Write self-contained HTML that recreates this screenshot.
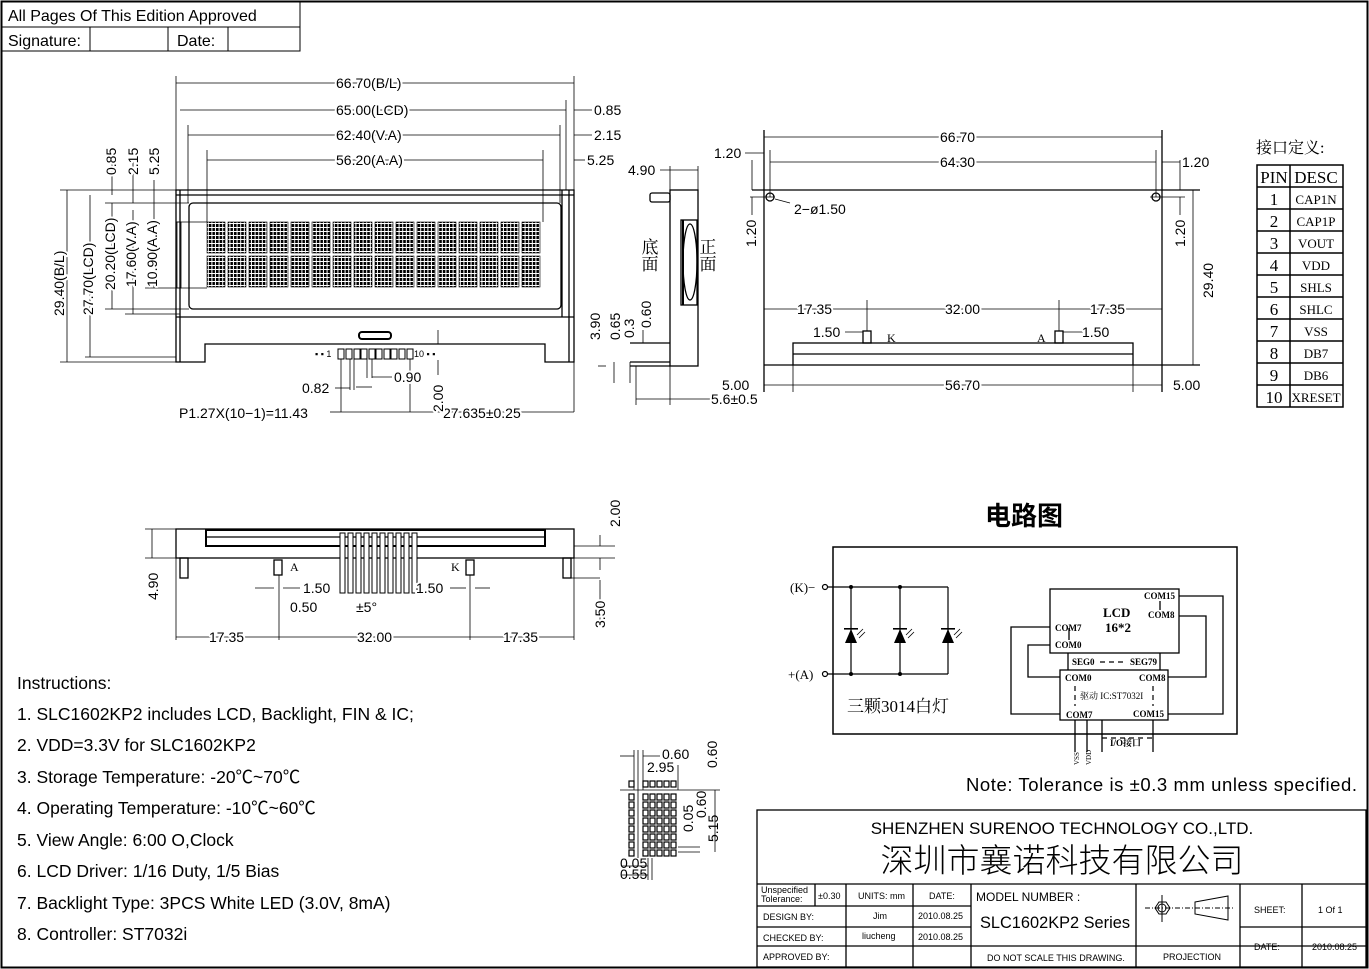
<!DOCTYPE html>
<html><head><meta charset="utf-8"><style>
html,body{margin:0;padding:0;background:#fff}
svg{display:block}
text{font-family:"Liberation Sans","Noto Sans CJK SC",sans-serif;fill:#000}
.s{font-family:"Liberation Serif","Noto Serif CJK SC",serif}
.d text{paint-order:stroke;stroke:#fff;stroke-width:4px;stroke-linejoin:round}
</style></head><body>
<svg width="1369" height="969" viewBox="0 0 1369 969" xmlns="http://www.w3.org/2000/svg" fill="none" stroke="#000" stroke-width="1">
<defs>
<pattern id="dots" width="3.6" height="4" patternUnits="userSpaceOnUse"><rect x="0" y="0" width="2.6" height="3" fill="#000" stroke="none"/></pattern>
</defs>
<rect x="1.5" y="1.5" width="1366" height="966" stroke-width="2"/>
<rect x="2" y="2" width="298" height="49"/>
<line x1="2" y1="27" x2="300" y2="27"/>
<line x1="90" y1="27" x2="90" y2="51"/><line x1="168" y1="27" x2="168" y2="51"/><line x1="228" y1="27" x2="228" y2="51"/>
<g stroke="none" font-size="16"><text x="8" y="21">All Pages Of This Edition Approved</text><text x="8" y="46">Signature:</text><text x="177" y="46">Date:</text></g>

<!-- FRONT VIEW -->
<g stroke-width="1.3">
<path d="M176 190 H574 V362 H545 V344 H205 V362 H176 Z"/>
<line x1="180" y1="190" x2="180" y2="362"/>
<line x1="176" y1="195" x2="574" y2="195"/>
<line x1="562" y1="190" x2="562" y2="317"/><line x1="569" y1="190" x2="569" y2="362"/>
<line x1="176" y1="317" x2="574" y2="317"/>
<rect x="189" y="203" width="372" height="106" rx="4"/>
<line x1="176" y1="222" x2="207" y2="222" stroke-width="0.8"/><line x1="176" y1="288" x2="207" y2="288" stroke-width="0.8"/>
<rect x="177" y="222" width="4" height="66" stroke-width="0.8"/>
<rect x="359" y="332" width="32" height="7" rx="3" stroke-width="2"/>
</g>
<g stroke="#000" stroke-width="0.6">
<g id="r1">
<rect x="207" y="222" width="18" height="31" fill="url(#dots)"/><rect x="228" y="222" width="18" height="31" fill="url(#dots)"/><rect x="249" y="222" width="18" height="31" fill="url(#dots)"/><rect x="270" y="222" width="18" height="31" fill="url(#dots)"/><rect x="291" y="222" width="18" height="31" fill="url(#dots)"/><rect x="312" y="222" width="18" height="31" fill="url(#dots)"/><rect x="333" y="222" width="18" height="31" fill="url(#dots)"/><rect x="354" y="222" width="18" height="31" fill="url(#dots)"/><rect x="375" y="222" width="18" height="31" fill="url(#dots)"/><rect x="396" y="222" width="18" height="31" fill="url(#dots)"/><rect x="417" y="222" width="18" height="31" fill="url(#dots)"/><rect x="438" y="222" width="18" height="31" fill="url(#dots)"/><rect x="459" y="222" width="18" height="31" fill="url(#dots)"/><rect x="480" y="222" width="18" height="31" fill="url(#dots)"/><rect x="501" y="222" width="18" height="31" fill="url(#dots)"/><rect x="522" y="222" width="18" height="31" fill="url(#dots)"/>
</g>
<use href="#r1" y="34"/>
</g>
<g stroke-width="1">
<rect x="338" y="349" width="6" height="10"/><rect x="346" y="349" width="6" height="10"/><rect x="354" y="349" width="6" height="10"/><rect x="361" y="349" width="6" height="10"/><rect x="369" y="349" width="6" height="10"/><rect x="376" y="349" width="6" height="10"/><rect x="384" y="349" width="6" height="10"/><rect x="391" y="349" width="6" height="10"/><rect x="399" y="349" width="6" height="10"/><rect x="407" y="349" width="6" height="10"/>
</g>
<g stroke="none" font-size="9"><text x="315" y="357">▪ ▪ 1</text><text x="414" y="357">10 ▪ ▪</text></g>

<g stroke-width="0.8">
<line x1="176" y1="76" x2="176" y2="190"/><line x1="574" y1="76" x2="574" y2="190"/>
<line x1="176" y1="83" x2="574" y2="83"/>
<line x1="180" y1="110" x2="566" y2="110"/><line x1="566" y1="100" x2="566" y2="190"/><line x1="574" y1="110" x2="592" y2="110"/>
<line x1="188" y1="135" x2="560" y2="135"/><line x1="188" y1="125" x2="188" y2="203"/><line x1="560" y1="125" x2="560" y2="203"/><line x1="574" y1="135" x2="592" y2="135"/>
<line x1="207" y1="160" x2="543" y2="160"/><line x1="207" y1="150" x2="207" y2="222"/><line x1="543" y1="150" x2="543" y2="222"/><line x1="574" y1="160" x2="585" y2="160"/>
<line x1="60" y1="190" x2="176" y2="190"/><line x1="60" y1="362" x2="176" y2="362"/>
<line x1="67" y1="190" x2="67" y2="362"/>
<line x1="90" y1="195" x2="90" y2="357"/><line x1="85" y1="357" x2="176" y2="357"/>
<line x1="112" y1="203" x2="112" y2="309"/><line x1="105" y1="309" x2="189" y2="309"/><line x1="105" y1="203" x2="189" y2="203"/>
<line x1="133" y1="210" x2="133" y2="314"/><line x1="125" y1="314" x2="180" y2="314"/>
<line x1="154" y1="222" x2="154" y2="288"/><line x1="145" y1="288" x2="176" y2="288"/>
<line x1="112" y1="160" x2="112" y2="195"/><line x1="133" y1="160" x2="133" y2="203"/><line x1="154" y1="180" x2="154" y2="222"/>
<line x1="341" y1="359" x2="341" y2="412"/><line x1="410" y1="359" x2="410" y2="412"/><line x1="574" y1="362" x2="574" y2="412"/>
<line x1="341" y1="412" x2="574" y2="412"/><line x1="330" y1="412" x2="341" y2="412"/>
<line x1="350" y1="359" x2="350" y2="390"/><line x1="354" y1="359" x2="354" y2="390"/><line x1="356" y1="387" x2="372" y2="387"/>
<line x1="367" y1="359" x2="367" y2="378"/><line x1="372" y1="359" x2="372" y2="378"/><line x1="372" y1="377" x2="392" y2="377"/>
<line x1="335" y1="388" x2="350" y2="388"/>
<line x1="438" y1="330" x2="438" y2="344"/><line x1="438" y1="360" x2="438" y2="375"/>
</g>
<g class="d" font-size="14">
<text x="336" y="88">66.70(B/L)</text>
<text x="336" y="115">65.00(LCD)</text><text x="594" y="115">0.85</text>
<text x="336" y="140">62.40(V.A)</text><text x="594" y="140">2.15</text>
<text x="336" y="165">56.20(A.A)</text><text x="587" y="165">5.25</text>
<text x="394" y="382">0.90</text><text x="302" y="393">0.82</text>
<text x="179" y="418">P1.27X(10−1)=11.43</text><text x="443" y="418">27.635±0.25</text>
<text transform="translate(64,316) rotate(-90)">29.40(B/L)</text>
<text transform="translate(93,315) rotate(-90)">27.70(LCD)</text>
<text transform="translate(115,290) rotate(-90)">20.20(LCD)</text>
<text transform="translate(136,287) rotate(-90)">17.60(V.A)</text>
<text transform="translate(157,287) rotate(-90)">10.90(A.A)</text>
<text transform="translate(116,175) rotate(-90)">0.85</text>
<text transform="translate(138,175) rotate(-90)">2.15</text>
<text transform="translate(159,175) rotate(-90)">5.25</text>
<text transform="translate(443,412) rotate(-90)">2.00</text>
</g>

<!-- SIDE VIEW -->
<g stroke-width="1.3">
<rect x="670" y="190" width="28" height="176"/>
<rect x="650" y="193" width="20" height="9" rx="2"/>
<rect x="681" y="220" width="16" height="85"/>
<line x1="683" y1="220" x2="683" y2="305" stroke-width="2"/>
<ellipse cx="690" cy="262" rx="7" ry="38"/>
<line x1="630" y1="343" x2="670" y2="343"/><line x1="630" y1="362" x2="670" y2="362"/><line x1="630" y1="366" x2="670" y2="366"/>
</g>
<g stroke-width="0.8"><line x1="670" y1="166" x2="670" y2="190"/><line x1="698" y1="166" x2="698" y2="190"/><line x1="660" y1="170" x2="698" y2="170"/>
<line x1="636" y1="366" x2="636" y2="405"/><line x1="670" y1="366" x2="670" y2="405"/><line x1="636" y1="399" x2="710" y2="399"/>
<line x1="614" y1="362" x2="614" y2="383"/><line x1="630" y1="362" x2="630" y2="383"/><line x1="643" y1="330" x2="643" y2="343"/><line x1="598" y1="366" x2="606" y2="366"/></g>
<g class="d" font-size="14"><text x="628" y="175">4.90</text><text x="711" y="404">5.6±0.5</text>
<text transform="translate(600,340) rotate(-90)">3.90</text>
<text transform="translate(620,340) rotate(-90)">0.65</text>
<text transform="translate(634,338) rotate(-90)">0.3</text>
<text transform="translate(651,328) rotate(-90)">0.60</text>
</g>
<g stroke="none" font-size="17" fill="#555"><text x="648" y="238" class="s" style="writing-mode:vertical-rl">底面</text><text x="706" y="238" class="s" style="writing-mode:vertical-rl">正面</text></g>

<!-- RIGHT VIEW -->
<g stroke-width="1.3">
<line x1="764" y1="130" x2="764" y2="392"/><line x1="1162" y1="130" x2="1162" y2="392"/>
<line x1="752" y1="190" x2="1200" y2="190"/>
<circle cx="770" cy="197" r="4"/><circle cx="1156" cy="197" r="4"/>
<rect x="793" y="343" width="340" height="22"/><line x1="793" y1="354" x2="1133" y2="354"/>
<line x1="764" y1="365" x2="793" y2="365"/><line x1="1133" y1="365" x2="1200" y2="365"/>
<rect x="863" y="331" width="8" height="12"/><rect x="1055" y="331" width="8" height="12"/>
</g>
<g stroke-width="0.8">
<line x1="764" y1="137" x2="1162" y2="137"/><line x1="770" y1="150" x2="770" y2="197"/><line x1="1156" y1="150" x2="1156" y2="197"/>
<line x1="770" y1="162" x2="1156" y2="162"/><line x1="745" y1="153" x2="764" y2="153"/><line x1="1162" y1="162" x2="1180" y2="162"/>
<line x1="750" y1="197" x2="775" y2="197"/><line x1="1150" y1="197" x2="1185" y2="197"/>
<line x1="1193" y1="190" x2="1193" y2="365"/>
<line x1="764" y1="309" x2="1162" y2="309"/><line x1="867" y1="300" x2="867" y2="331"/><line x1="1059" y1="300" x2="1059" y2="331"/>
<line x1="764" y1="385" x2="1162" y2="385"/><line x1="793" y1="365" x2="793" y2="392"/><line x1="1133" y1="365" x2="1133" y2="392"/>
<line x1="845" y1="332" x2="863" y2="332"/><line x1="1063" y1="332" x2="1083" y2="332"/>
<line x1="752" y1="160" x2="752" y2="190"/><line x1="752" y1="197" x2="752" y2="215"/><line x1="1180" y1="160" x2="1180" y2="190"/><line x1="1180" y1="197" x2="1180" y2="215"/>
<line x1="775" y1="199" x2="790" y2="203"/>
</g>
<g class="d" font-size="14">
<text x="940" y="142">66.70</text><text x="940" y="167">64.30</text>
<text x="714" y="158">1.20</text><text x="1182" y="167">1.20</text>
<text x="794" y="214">2−ø1.50</text>
<text x="797" y="314">17.35</text><text x="945" y="314">32.00</text><text x="1090" y="314">17.35</text>
<text x="813" y="337">1.50</text><text x="1082" y="337">1.50</text>
<text x="722" y="390">5.00</text><text x="945" y="390">56.70</text><text x="1173" y="390">5.00</text>
<text transform="translate(756,247) rotate(-90)">1.20</text>
<text transform="translate(1185,247) rotate(-90)">1.20</text>
<text transform="translate(1213,298) rotate(-90)">29.40</text>
</g>
<g stroke="none" font-size="12"><text x="887" y="342" class="s">K</text><text x="1037" y="342" class="s">A</text></g>

<!-- PIN TABLE -->
<text x="1256" y="153" stroke="none" font-size="16" class="s">接口定义:</text>
<g stroke-width="1.5"><rect x="1257" y="165" width="86" height="242"/><line x1="1290" y1="165" x2="1290" y2="407"/>
<line x1="1257" y1="187" x2="1343" y2="187"/><line x1="1257" y1="209" x2="1343" y2="209"/><line x1="1257" y1="231" x2="1343" y2="231"/><line x1="1257" y1="253" x2="1343" y2="253"/><line x1="1257" y1="275" x2="1343" y2="275"/><line x1="1257" y1="297" x2="1343" y2="297"/><line x1="1257" y1="319" x2="1343" y2="319"/><line x1="1257" y1="341" x2="1343" y2="341"/><line x1="1257" y1="363" x2="1343" y2="363"/><line x1="1257" y1="385" x2="1343" y2="385"/></g>
<g stroke="none" font-size="17" text-anchor="middle">
<text class="s" x="1274" y="183">PIN</text><text class="s" x="1316" y="183">DESC</text>
<text class="s" x="1274" y="205">1</text><text class="s" x="1274" y="227">2</text><text class="s" x="1274" y="249">3</text><text class="s" x="1274" y="271">4</text><text class="s" x="1274" y="293">5</text><text class="s" x="1274" y="315">6</text><text class="s" x="1274" y="337">7</text><text class="s" x="1274" y="359">8</text><text class="s" x="1274" y="381">9</text><text class="s" x="1274" y="403">10</text>
</g>
<g stroke="none" font-size="13" text-anchor="middle">
<text class="s" x="1316" y="204">CAP1N</text><text class="s" x="1316" y="226">CAP1P</text><text class="s" x="1316" y="248">VOUT</text><text class="s" x="1316" y="270">VDD</text><text class="s" x="1316" y="292">SHLS</text><text class="s" x="1316" y="314">SHLC</text><text class="s" x="1316" y="336">VSS</text><text class="s" x="1316" y="358">DB7</text><text class="s" x="1316" y="380">DB6</text><text class="s" x="1316" y="402">XRESET</text>
</g>

<!-- BOTTOM VIEW -->
<g stroke-width="1.3">
<rect x="176" y="529" width="398" height="29"/>
<rect x="206" y="530" width="339" height="16" stroke-width="2"/>
<line x1="206" y1="537" x2="545" y2="537"/>
<rect x="180" y="558" width="8" height="20"/><rect x="563" y="558" width="8" height="20"/>
<rect x="274" y="560" width="8" height="15"/><rect x="466" y="560" width="8" height="15"/>
</g>
<g stroke-width="1" fill="#fff">
<rect x="340" y="533" width="5" height="60"/><rect x="348" y="533" width="5" height="60"/><rect x="356" y="533" width="5" height="60"/><rect x="364" y="533" width="5" height="60"/><rect x="372" y="533" width="5" height="60"/><rect x="380" y="533" width="5" height="60"/><rect x="388" y="533" width="5" height="60"/><rect x="396" y="533" width="5" height="60"/><rect x="404" y="533" width="5" height="60"/><rect x="412" y="533" width="5" height="60"/>
</g>
<g stroke-width="0.8">
<line x1="145" y1="529" x2="176" y2="529"/><line x1="145" y1="558" x2="176" y2="558"/><line x1="152" y1="529" x2="152" y2="558"/>
<line x1="176" y1="558" x2="176" y2="640"/><line x1="279" y1="575" x2="279" y2="640"/><line x1="470" y1="575" x2="470" y2="640"/><line x1="574" y1="558" x2="574" y2="640"/>
<line x1="176" y1="637" x2="574" y2="637"/>
<line x1="574" y1="546" x2="615" y2="546"/><line x1="574" y1="558" x2="615" y2="558"/><line x1="571" y1="578" x2="600" y2="578"/>
<line x1="600" y1="535" x2="600" y2="546"/><line x1="600" y1="558" x2="600" y2="570"/><line x1="600" y1="580" x2="600" y2="620"/>
<line x1="255" y1="588" x2="274" y2="588"/><line x1="283" y1="588" x2="300" y2="588"/>
<line x1="450" y1="588" x2="466" y2="588"/><line x1="475" y1="588" x2="490" y2="588"/>
</g>
<g class="d" font-size="14">
<text transform="translate(158,600) rotate(-90)">4.90</text>
<text transform="translate(620,527) rotate(-90)">2.00</text>
<text transform="translate(605,628) rotate(-90)">3.50</text>
<text x="303" y="593">1.50</text><text x="416" y="593">1.50</text>
<text x="290" y="612" fill="#888">0.50</text><text x="356" y="612" fill="#888">±5°</text>
<text x="209" y="642">17.35</text><text x="357" y="642">32.00</text><text x="503" y="642">17.35</text>
</g>
<g stroke="none" font-size="12"><text class="s" x="290" y="571">A</text><text class="s" x="451" y="571">K</text></g>

<!-- DETAIL GRID -->
<g fill="none" stroke-width="1.2">
<rect x="629" y="781" width="5" height="6"/>
<rect x="643" y="781" width="5" height="6"/><rect x="650" y="781" width="5" height="6"/><rect x="657" y="781" width="5" height="6"/><rect x="664" y="781" width="5" height="6"/><rect x="671" y="781" width="5" height="6"/>
<g id="gr">
<rect x="629" y="794" width="5" height="6"/><rect x="643" y="794" width="5" height="6"/><rect x="650" y="794" width="5" height="6"/><rect x="657" y="794" width="5" height="6"/><rect x="664" y="794" width="5" height="6"/><rect x="671" y="794" width="5" height="6"/>
</g>
<use href="#gr" y="8"/><use href="#gr" y="16"/><use href="#gr" y="24"/><use href="#gr" y="32"/><use href="#gr" y="40"/><use href="#gr" y="48"/><use href="#gr" y="56"/>
</g>
<g stroke-width="0.8">
<line x1="638" y1="750" x2="638" y2="858"/><line x1="678" y1="765" x2="678" y2="790"/><line x1="620" y1="790" x2="720" y2="790"/>
<line x1="620" y1="756" x2="634" y2="756"/><line x1="643" y1="756" x2="660" y2="756"/>
<line x1="634" y1="750" x2="634" y2="790"/><line x1="643" y1="750" x2="643" y2="790"/>
<line x1="678" y1="847" x2="700" y2="847"/><line x1="678" y1="852" x2="700" y2="852"/>
<line x1="715" y1="790" x2="715" y2="852"/>
<line x1="648" y1="858" x2="648" y2="880"/><line x1="652" y1="858" x2="652" y2="880"/><line x1="622" y1="866" x2="648" y2="866"/><line x1="622" y1="875" x2="648" y2="875"/>
</g>
<g stroke="none" font-size="14"><text x="662" y="759">0.60</text><text x="647" y="772">2.95</text>
<text transform="translate(717,768) rotate(-90)">0.60</text>
<text transform="translate(693,832) rotate(-90)">0.05</text>
<text transform="translate(706,818) rotate(-90)">0.60</text>
<text transform="translate(718,842) rotate(-90)">5.15</text>
<text x="620" y="868">0.05</text><text x="620" y="879">0.55</text></g>

<!-- CIRCUIT -->
<text x="985" y="525" stroke="none" font-size="26" font-weight="bold" font-family="Noto Sans CJK SC,sans-serif">电路图</text>
<rect x="833" y="547" width="404" height="187" stroke-width="1.5"/>
<g stroke-width="1.2">
<line x1="828" y1="587" x2="948" y2="587"/><line x1="828" y1="674" x2="948" y2="674"/><line x1="948" y1="587" x2="948" y2="674"/>
<line x1="851" y1="587" x2="851" y2="674"/><line x1="900" y1="587" x2="900" y2="674"/>
<circle cx="825" cy="587" r="2.5"/><circle cx="825" cy="674" r="2.5"/>
</g>
<g fill="#000" stroke="none">
<path d="M845 643 L857 643 L851 629 Z"/><rect x="844" y="628" width="14" height="1.6"/>
<path d="M894 643 L906 643 L900 629 Z"/><rect x="893" y="628" width="14" height="1.6"/>
<path d="M942 643 L954 643 L948 629 Z"/><rect x="941" y="628" width="14" height="1.6"/>
<circle cx="851" cy="587" r="2"/><circle cx="900" cy="587" r="2"/><circle cx="851" cy="674" r="2"/><circle cx="900" cy="674" r="2"/>
</g>
<g stroke-width="0.8"><line x1="857" y1="635" x2="863" y2="629"/><line x1="859" y1="638" x2="865" y2="632"/><line x1="906" y1="635" x2="912" y2="629"/><line x1="908" y1="638" x2="914" y2="632"/><line x1="954" y1="635" x2="960" y2="629"/><line x1="956" y1="638" x2="962" y2="632"/></g>
<g stroke="none" font-size="13"><text class="s" x="790" y="592">(K)−</text><text class="s" x="788" y="679">+(A)</text></g>
<text x="847" y="712" stroke="none" font-size="17" fill="#444" class="s">三颗3014白灯</text>
<g stroke-width="1.3">
<rect x="1050" y="589" width="129" height="64"/>
<rect x="1060" y="670" width="108" height="50"/>
<line x1="1068" y1="653" x2="1068" y2="670"/><line x1="1160" y1="653" x2="1160" y2="670"/>
<polyline points="1050,627 1011,627 1011,714 1060,714"/>
<polyline points="1050,645 1028,645 1028,677 1060,677"/>
<polyline points="1179,596 1223,596 1223,714 1168,714"/>
<polyline points="1179,616 1206,616 1206,677 1168,677"/>
<line x1="1075" y1="720" x2="1075" y2="752"/><line x1="1087" y1="720" x2="1087" y2="752"/><line x1="1102" y1="720" x2="1102" y2="752"/><line x1="1153" y1="720" x2="1153" y2="752"/>
<line x1="1069" y1="628" x2="1069" y2="640"/><line x1="1160" y1="601" x2="1160" y2="610"/>
</g>
<g stroke-width="1.2" stroke-dasharray="5,4"><line x1="1102" y1="738" x2="1153" y2="738"/><line x1="1100" y1="662" x2="1127" y2="662"/><line x1="1075" y1="686" x2="1075" y2="706"/><line x1="1153" y1="686" x2="1153" y2="706"/></g>
<g stroke="none" font-size="9" font-weight="bold">
<text class="s" x="1144" y="599">COM15</text><text class="s" x="1148" y="618">COM8</text>
<text class="s" x="1055" y="631">COM7</text><text class="s" x="1055" y="648">COM0</text>
<text class="s" x="1072" y="665">SEG0</text><text class="s" x="1130" y="665">SEG79</text>
<text class="s" x="1065" y="681">COM0</text><text class="s" x="1139" y="681">COM8</text>
<text class="s" x="1066" y="718">COM7</text><text class="s" x="1133" y="717">COM15</text>
<text class="s" x="1110" y="746">I/O接口</text>
<text class="s" x="1080" y="699" font-weight="normal">驱动 IC:ST7032I</text>
</g>
<g stroke="none" font-size="13" font-weight="bold"><text class="s" x="1103" y="617">LCD</text><text class="s" x="1105" y="632">16*2</text></g>
<g stroke="none" font-size="7"><text class="s" transform="translate(1079,765) rotate(-90)">VSS</text><text class="s" transform="translate(1091,765) rotate(-90)">VDD</text></g>

<text x="966" y="791" stroke="none" font-size="18.5" textLength="391">Note: Tolerance is ±0.3 mm unless specified.</text>

<!-- INSTRUCTIONS -->
<g stroke="none" font-size="17.5">
<text x="17" y="689">Instructions:</text>
<text x="17" y="720">1. SLC1602KP2 includes LCD, Backlight,  FIN &amp; IC;</text>
<text x="17" y="751">2. VDD=3.3V for SLC1602KP2</text>
<text x="17" y="783">3. Storage Temperature:  -20℃~70℃</text>
<text x="17" y="814">4. Operating Temperature:  -10℃~60℃</text>
<text x="17" y="846">5. View Angle: 6:00 O,Clock</text>
<text x="17" y="877">6. LCD Driver: 1/16 Duty, 1/5 Bias</text>
<text x="17" y="909">7. Backlight Type: 3PCS White LED (3.0V, 8mA)</text>
<text x="17" y="940">8. Controller: ST7032i</text>
</g>

<!-- TITLE BLOCK -->
<g stroke-width="1.3">
<rect x="757" y="810" width="609" height="157"/>
<line x1="757" y1="884" x2="1366" y2="884"/>
<line x1="757" y1="906" x2="971" y2="906"/><line x1="757" y1="927" x2="971" y2="927"/><line x1="757" y1="946" x2="1366" y2="946"/>
<line x1="1240" y1="927" x2="1366" y2="927"/>
<line x1="815" y1="884" x2="815" y2="906"/><line x1="846" y1="884" x2="846" y2="967"/><line x1="913" y1="884" x2="913" y2="967"/>
<line x1="971" y1="884" x2="971" y2="967"/><line x1="1136" y1="884" x2="1136" y2="967"/><line x1="1240" y1="884" x2="1240" y2="967"/><line x1="1302" y1="884" x2="1302" y2="967"/>
</g>
<g stroke="none">
<text x="1062" y="834" font-size="17" text-anchor="middle">SHENZHEN SURENOO TECHNOLOGY CO.,LTD.</text>
<text x="1062" y="872" font-size="33" text-anchor="middle" font-family="Noto Sans CJK SC,sans-serif" font-weight="300">深圳市襄诺科技有限公司</text>
<g font-size="9"><text x="761" y="893">Unspecified</text><text x="761" y="902">Tolerance:</text><text x="818" y="899">±0.30</text>
<text x="858" y="899">UNITS: mm</text><text x="929" y="899">DATE:</text>
<text x="763" y="920">DESIGN      BY:</text><text x="873" y="919">Jim</text><text x="918" y="919">2010.08.25</text>
<text x="763" y="941">CHECKED   BY:</text><text x="862" y="939">liucheng</text><text x="918" y="940">2010.08.25</text>
<text x="763" y="960">APPROVED BY:</text><text x="987" y="961">DO NOT SCALE THIS DRAWING.</text><text x="1163" y="960">PROJECTION</text>
<text x="1254" y="913">SHEET:</text><text x="1318" y="913">1  Of  1</text>
<text x="1254" y="950">DATE:</text><text x="1312" y="950">2010.08.25</text></g>
<text x="976" y="901" font-size="12">MODEL NUMBER :</text>
<text x="980" y="928" font-size="17" textLength="150" lengthAdjust="spacingAndGlyphs">SLC1602KP2 Series</text>
</g>
<g stroke-width="1">
<polygon points="1155,908 1159,902 1166,902 1170,908 1166,914 1159,914"/><circle cx="1162" cy="908" r="4"/>
<line x1="1162" y1="895" x2="1162" y2="922"/><line x1="1145" y1="908" x2="1233" y2="908" stroke-dasharray="5,2,1,2"/>
<polygon points="1195,902 1228,896 1228,920 1195,914"/>
</g>
</svg>
</body></html>
